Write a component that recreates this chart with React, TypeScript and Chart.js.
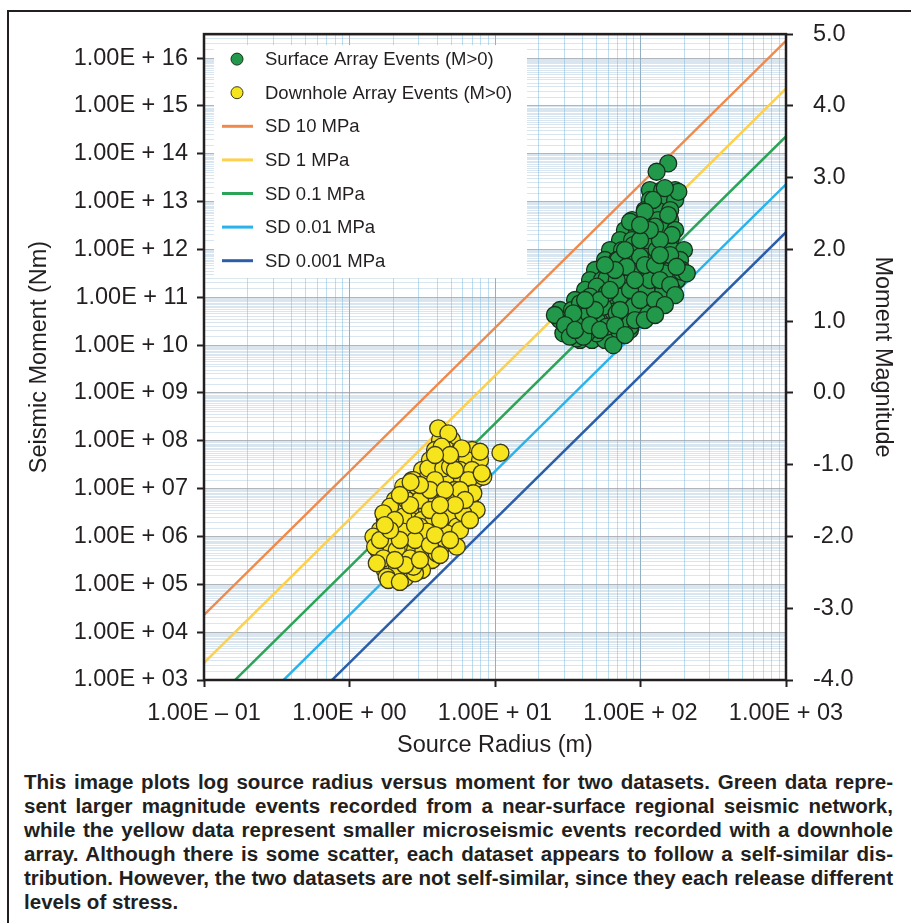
import React, { useEffect, useLayoutEffect, useRef, useState } from 'react';
import { Chart, registerables } from 'chart.js';

Chart.register(...registerables);

// Surface array events: [source radius (m), seismic moment (Nm)]
const surfaceEvents: [number, number][] = [
  [116, 1.74e13], [141, 1.74e13], [173, 1.74e13],
  [116, 1.08e13], [141, 1.08e13], [173, 1.08e13],
  [107, 6.65e12], [130, 6.65e12], [160, 6.65e12],
  [87.5, 4.11e12], [107, 4.11e12], [132, 4.11e12], [160, 4.11e12],
  [78.2, 2.54e12], [94.6, 2.54e12], [116, 2.54e12], [141, 2.54e12], [173, 2.54e12],
  [72.3, 1.57e12], [87.5, 1.57e12], [107, 1.57e12], [130, 1.57e12], [160, 1.57e12],
  [61.7, 9.7e11], [74.6, 9.7e11], [91.6, 9.7e11], [111, 9.7e11], [136, 9.7e11], [165, 9.7e11], [199, 9.7e11],
  [57.0, 6.0e11], [68.9, 6.0e11], [84.7, 6.0e11], [102, 6.0e11], [126, 6.0e11], [152, 6.0e11], [187, 6.0e11],
  [48.7, 3.71e11], [58.9, 3.71e11], [72.3, 3.71e11], [87.5, 3.71e11], [107, 3.71e11], [130, 3.71e11], [160, 3.71e11], [193, 3.71e11],
  [45.0, 2.29e11], [54.3, 2.29e11], [66.8, 2.29e11], [80.7, 2.29e11], [99.3, 2.29e11], [120, 2.29e11], [147, 2.29e11], [178, 2.29e11],
  [41.6, 1.42e11], [50.2, 1.42e11], [61.7, 1.42e11], [74.6, 1.42e11], [91.6, 1.42e11], [111, 1.42e11], [136, 1.42e11], [165, 1.42e11],
  [35.5, 8.75e10], [42.9, 8.75e10], [52.7, 8.75e10], [63.7, 8.75e10], [78.2, 8.75e10], [94.6, 8.75e10], [116, 8.75e10],
  [28.0, 5.41e10], [33.8, 5.41e10], [41.6, 5.41e10], [50.2, 5.41e10], [61.7, 5.41e10], [74.6, 5.41e10], [91.6, 5.41e10],
  [28.0, 3.34e10], [33.8, 3.34e10], [41.6, 3.34e10], [50.2, 3.34e10], [61.7, 3.34e10], [74.6, 3.34e10], [91.6, 3.34e10],
  [31.3, 2.07e10], [38.4, 2.07e10], [46.4, 2.07e10], [57.0, 2.07e10], [68.9, 2.07e10], [84.7, 2.07e10],
  [38.4, 1.28e10], [46.4, 1.28e10], [57.0, 1.28e10],
  [155, 6.28e13], [129, 4.2e13], [182, 1.6e13], [147, 1.91e13], [122, 1.08e13],
  [155, 5.22e12], [107, 6.12e12], [84.7, 3.78e12], [126, 2.98e12], [164, 2.0e12],
  [110, 1.57e12], [89.3, 1.23e12], [160, 7.62e11], [70.4, 6.0e11], [96.6, 3.16e11],
  [147, 3.16e11], [192, 3.41e11], [58.6, 2.48e11], [80.4, 1.95e11], [110, 1.42e11],
  [143, 1.3e11], [50.0, 1.66e11], [65.0, 6.87e10], [89.3, 7.46e10], [38.4, 7.46e10],
  [25.8, 4.25e10], [32.7, 2.85e10], [39.4, 2.85e10], [50.0, 3.34e10], [65.0, 4.98e10],
  [29.5, 1.76e10], [36.5, 1.38e10], [65.0, 1.0e10], [50.0, 1.76e10], [84.7, 2.42e10],
  [110, 4.61e10], [208, 3.16e11], [177, 4.34e11], [55.5, 6.34e10], [72.3, 1.03e11],
  [45.0, 1.03e11], [99.3, 7.03e11], [129, 9.7e11], [80.4, 4.34e11], [68.6, 2.29e11],
  [58.6, 1.21e11], [43.8, 4.61e10], [76.2, 3.34e10], [58.6, 2.42e10], [42.7, 1.76e10],
  [34.5, 4.61e10], [30.3, 2.62e10], [68.6, 4.61e10], [89.3, 6.34e10], [32.7, 1.5e10],
  [40.5, 1.5e10], [52.7, 8.75e10], [61.7, 1.42e11], [72.3, 5.41e10], [84.7, 1.42e11],
  [99.3, 8.75e10], [116, 2.29e11], [91.7, 2.29e11], [107, 4.71e11], [126, 4.71e11],
  [136, 1.57e12], [116, 2.54e12], [99.3, 1.57e12], [78.3, 9.7e11], [66.8, 3.71e11],
  [57.0, 4.71e11], [48.7, 5.41e10], [41.6, 8.75e10], [35.5, 2.07e10], [45.0, 2.62e10],
  [52.7, 2.07e10], [66.8, 2.62e10], [78.3, 1.62e10], [91.7, 3.34e10], [107, 3.34e10],
  [126, 8.75e10], [136, 2.29e11], [160, 1.8e11], [173, 1.11e11], [147, 6.87e10],
  [126, 4.25e10], [136, 7.62e11], [99.3, 3.23e12],
];

// Downhole array events: [source radius (m), seismic moment (Nm)]
const downholeEvents: [number, number][] = [
  [4.19, 1.04e8], [5.06, 1.04e8],
  [3.87, 6.41e7], [4.68, 6.41e7], [5.75, 6.41e7], [6.95, 6.41e7],
  [3.57, 3.96e7], [4.32, 3.96e7], [5.31, 3.96e7], [6.42, 3.96e7], [7.89, 3.96e7],
  [3.15, 2.45e7], [3.87, 2.45e7], [4.68, 2.45e7], [5.75, 2.45e7], [6.95, 2.45e7],
  [2.69, 1.51e7], [3.3, 1.51e7], [3.99, 1.51e7], [4.91, 1.51e7], [5.93, 1.51e7], [7.29, 1.51e7],
  [2.41, 9.35e6], [2.91, 9.35e6], [3.57, 9.35e6], [4.32, 9.35e6], [5.31, 9.35e6], [6.42, 9.35e6],
  [2.05, 5.78e6], [2.48, 5.78e6], [3.05, 5.78e6], [3.69, 5.78e6], [4.53, 5.78e6], [5.48, 5.78e6], [6.73, 5.78e6],
  [1.9, 3.57e6], [2.3, 3.57e6], [2.82, 3.57e6], [3.41, 3.57e6], [4.19, 3.57e6], [5.06, 3.57e6], [6.22, 3.57e6], [7.29, 3.57e6],
  [1.75, 2.21e6], [2.12, 2.21e6], [2.61, 2.21e6], [3.15, 2.21e6], [3.87, 2.21e6], [4.68, 2.21e6], [5.75, 2.21e6],
  [1.62, 1.36e6], [1.96, 1.36e6], [2.41, 1.36e6], [2.91, 1.36e6], [3.57, 1.36e6], [4.32, 1.36e6], [5.31, 1.36e6],
  [1.57, 8.43e5], [1.9, 8.43e5], [2.3, 8.43e5], [2.82, 8.43e5], [3.41, 8.43e5], [4.19, 8.43e5], [5.06, 8.43e5],
  [1.57, 5.21e5], [1.9, 5.21e5], [2.3, 5.21e5], [2.82, 5.21e5], [3.41, 5.21e5], [4.19, 5.21e5],
  [1.67, 3.22e5], [2.05, 3.22e5], [2.48, 3.22e5], [3.05, 3.22e5], [3.69, 3.22e5],
  [1.75, 1.99e5], [2.12, 1.99e5], [2.61, 1.99e5], [3.15, 1.99e5],
  [1.96, 1.36e5], [2.41, 1.36e5],
  [4.07, 1.82e8], [4.78, 1.43e8], [4.3, 7.52e7], [5.9, 6.95e7], [7.89, 5.9e7],
  [10.9, 5.62e7], [3.48, 2.65e7], [4.41, 2.65e7], [6.56, 1.51e7], [8.31, 1.77e7],
  [5.31, 9.35e6], [3.4, 6.78e6], [2.47, 5.78e6], [4.66, 5.78e6], [6.92, 7.98e6],
  [7.48, 3.57e6], [4.91, 2.81e6], [3.77, 2.21e6], [1.9, 4.19e6], [2.34, 2.59e6],
  [3.05, 1.6e6], [3.4, 1.26e6], [2.34, 1.26e6], [1.75, 7.2e5], [1.46, 9.89e5],
  [2.11, 5.21e5], [2.61, 3.49e5], [3.22, 5.21e5], [4.19, 8.43e5], [5.46, 1.6e6],
  [6.05, 3.05e6], [2.11, 1.99e5], [1.8, 1.44e5], [1.62, 3.22e5], [2.82, 1.7e5],
  [3.97, 4.45e5], [5.46, 6.11e5], [4.66, 1.16e6], [1.5, 6.11e5], [2.75, 1.51e7],
  [2.34, 1.1e7], [1.71, 3.05e6], [1.62, 8.43e5], [1.71, 3.49e5], [2.75, 2.33e5],
  [1.54, 2.75e5], [1.85, 1.23e5], [8.11, 2.09e7], [7.1, 7.98e6], [5.75, 1.36e6],
  [4.91, 2.87e7], [3.05, 5.78e6], [3.57, 3.57e6], [4.19, 2.21e6], [2.82, 8.43e5],
  [2.22, 8.43e5], [2.05, 2.21e6], [2.61, 4.54e6], [3.87, 1.51e7], [5.31, 2.45e7],
  [5.75, 9.35e6], [6.22, 5.78e6], [3.57, 9.35e6], [4.53, 9.35e6], [4.91, 5.04e7],
  [3.87, 5.04e7], [3.05, 1.19e7], [1.9, 1.36e6], [2.41, 2.53e5], [3.05, 3.22e5],
  [3.57, 6.62e5], [4.19, 4.1e5], [1.75, 1.73e6], [6.73, 2.21e6], [5.31, 4.54e6],
  [2.22, 1.12e5], [2.63, 1.37e7], [2.22, 7.35e6], [4.19, 4.54e6], [2.82, 1.73e6],
  [3.87, 1.07e6], [4.91, 8.43e5], [2.05, 3.22e5],
];

// Stress-drop reference lines (moment at radius 0.1 m and 1000 m)
const sdLabels = ['SD 10 MPa', 'SD 1 MPa', 'SD 0.1 MPa', 'SD 0.01 MPa', 'SD 0.001 MPa'];
const sdColors = ['#f08a4c', '#fdd04e', '#2ba457', '#2ab2ea', '#2c5ea8'];
const sdRadiusEnds = [0.1, 1000];
const sdMomentEnds: [number, number][] = [
  [2.29e4, 2.29e16],
  [2.29e3, 2.29e15],
  [2.29e2, 2.29e14],
  [22.9, 2.29e13],
  [2.29, 2.29e12],
];

const pointLabels = ['Surface Array Events (M>0)', 'Downhole Array Events (M>0)'];

const xDecades = [-1, 0, 1, 2, 3];
const xTickLabels = ['1.00E \u2013 01', '1.00E + 00', '1.00E + 01', '1.00E + 02', '1.00E + 03'];
const yDecades = [3, 4, 5, 6, 7, 8, 9, 10, 11, 12, 13, 14, 15, 16];
const yTickLabels = [
  '1.00E + 03', '1.00E + 04', '1.00E + 05', '1.00E + 06', '1.00E + 07', '1.00E + 08', '1.00E + 09',
  '1.00E + 10', '1.00E + 11', '1.00E + 12', '1.00E + 13', '1.00E + 14', '1.00E + 15', '1.00E + 16',
];
const mwTicks = [-4, -3, -2, -1, 0, 1, 2, 3, 4, 5];
const mwTickLabels = ['-4.0', '-3.0', '-2.0', '-1.0', '0.0', '1.0', '2.0', '3.0', '4.0', '5.0'];

const captionLines = [
  'This image plots log source radius versus moment for two datasets. Green data repre-',
  'sent larger magnitude events recorded from a near-surface regional seismic network,',
  'while the yellow data represent smaller microseismic events recorded with a downhole',
  'array. Although there is some scatter, each dataset appears to follow a self-similar dis-',
  'tribution. However, the two datasets are not self-similar, since they each release different',
  'levels of stress.',
];

const INK = '#231f20';
const FONT = "'Liberation Sans', Arial, Helvetica, sans-serif";
const GREEN_FILL = '#22994a';
const GREEN_EDGE = '#17301c';
const YELLOW_FILL = '#f6e41c';
const YELLOW_EDGE = '#3d3a1c';

const X_MIN = 0.1;
const X_MAX = 1000;
const Y_MIN = 1e3;
const Y_MAX = Math.pow(10, 16.5);

function logGrid(min: number, max: number, mults: number[]): number[] {
  const out: number[] = [];
  const e0 = Math.floor(Math.log10(min));
  const e1 = Math.ceil(Math.log10(max));
  for (let e = e0; e <= e1; e++) {
    for (const m of mults) {
      const v = m * Math.pow(10, e);
      if (v >= min * 0.999999 && v <= max * 1.000001) out.push(v);
    }
  }
  return out;
}

function decadeOf(v: number): number | null {
  if (!(v > 0)) return null;
  const l = Math.log10(v);
  const r = Math.round(l);
  return Math.abs(l - r) < 1e-7 ? r : null;
}

const xGridValues = logGrid(X_MIN, X_MAX, [1, 2, 3, 4, 5, 6, 7, 8, 9]);
const yGridValues = logGrid(Y_MIN, Y_MAX, [1, 1.5, 2, 2.5, 3, 3.5, 4, 4.5, 5, 5.5, 6, 6.5, 7, 7.5, 8, 8.5, 9, 9.5]);

const V_MINOR = 'rgba(120,190,225,0.5)';
const V_MAJOR = 'rgba(110,150,175,0.75)';
const H_MINOR = 'rgba(140,180,205,0.33)';
const H_MAJOR = 'rgba(150,158,165,0.75)';

const frameLegendPlugin = {
  id: 'frameLegend',
  beforeDatasetsDraw(chart: any) {
    const { ctx, chartArea } = chart;
    const L = chartArea.left;
    const T = chartArea.top;
    ctx.save();
    ctx.fillStyle = '#ffffff';
    ctx.fillRect(L + 10, T + 11, 313, 233);
    const ds = chart.data.datasets;
    const rowY = (i: number) => T + 25 + i * 33.6;
    ctx.font = `18.5px ${FONT}`;
    ctx.textBaseline = 'middle';
    ctx.textAlign = 'left';
    ds.forEach((d: any, i: number) => {
      const y = rowY(i);
      if (d.showLine) {
        ctx.strokeStyle = d.borderColor;
        ctx.lineWidth = 3;
        ctx.beginPath();
        ctx.moveTo(L + 18, y);
        ctx.lineTo(L + 49, y);
        ctx.stroke();
      } else {
        ctx.fillStyle = d.backgroundColor;
        ctx.strokeStyle = d.borderColor;
        ctx.lineWidth = 1;
        ctx.beginPath();
        ctx.arc(L + 33, y, 6, 0, Math.PI * 2);
        ctx.fill();
        ctx.stroke();
      }
      ctx.fillStyle = INK;
      ctx.fillText(d.label, L + 61, y + 1);
    });
    ctx.restore();
  },
  afterDatasetsDraw(chart: any) {
    const { ctx, chartArea } = chart;
    ctx.save();
    ctx.strokeStyle = INK;
    ctx.lineWidth = 2.5;
    ctx.strokeRect(chartArea.left, chartArea.top, chartArea.right - chartArea.left, chartArea.bottom - chartArea.top);
    ctx.restore();
  },
};

function ChartView() {
  const ref = useRef<HTMLCanvasElement | null>(null);
  useEffect(() => {
    if (!ref.current) return;
    const pointSets = [
      { label: pointLabels[0], events: surfaceEvents, fill: GREEN_FILL, edge: GREEN_EDGE },
      { label: pointLabels[1], events: downholeEvents, fill: YELLOW_FILL, edge: YELLOW_EDGE },
    ].map((p) => ({
      label: p.label,
      data: p.events.map(([r, m]) => ({ x: r, y: m })),
      backgroundColor: p.fill,
      borderColor: p.edge,
      borderWidth: 1.3,
      pointRadius: 8.5,
      pointHoverRadius: 8.5,
      showLine: false,
    }));
    const lineSets = sdLabels.map((label, i) => ({
      label,
      data: sdRadiusEnds.map((r, j) => ({ x: r, y: sdMomentEnds[i][j] })),
      borderColor: sdColors[i],
      backgroundColor: sdColors[i],
      borderWidth: 2.5,
      pointRadius: 0,
      showLine: true,
    }));
    const tickFont = { family: FONT, size: 23.5 };
    const titleFont = { family: FONT, size: 23.5, lineHeight: 1 };
    const chart = new Chart(ref.current, {
      type: 'scatter',
      data: { datasets: [...pointSets, ...lineSets] as any },
      plugins: [frameLegendPlugin],
      options: {
        animation: false,
        responsive: false,
        devicePixelRatio: 1,
        layout: { padding: { top: 33, left: 0, right: 0, bottom: 0 } },
        plugins: { legend: { display: false }, tooltip: { enabled: false } },
        scales: {
          x: {
            type: 'logarithmic',
            position: 'bottom',
            min: X_MIN,
            max: X_MAX,
            afterBuildTicks: (s: any) => {
              s.ticks = xGridValues.map((v) => ({ value: v }));
            },
            afterFit: (s: any) => {
              s.height = 85;
            },
            border: { display: false },
            grid: {
              lineWidth: 1,
              color: (c: any) => (decadeOf(c.tick?.value) !== null ? V_MAJOR : V_MINOR),
              drawTicks: true,
              tickLength: 7,
              tickWidth: 2,
              tickColor: (c: any) => (decadeOf(c.tick?.value) !== null ? INK : 'rgba(0,0,0,0)'),
            },
            ticks: {
              autoSkip: false,
              maxRotation: 0,
              minRotation: 0,
              padding: 12,
              color: INK,
              font: tickFont,
              callback: (v: any) => {
                const d = decadeOf(Number(v));
                const k = d === null ? -1 : xDecades.indexOf(d);
                return k >= 0 ? xTickLabels[k] : '';
              },
            },
            title: {
              display: true,
              text: 'Source Radius (m)',
              color: INK,
              font: titleFont,
              padding: { top: 0, bottom: 8 },
            },
          },
          y: {
            type: 'logarithmic',
            position: 'left',
            min: Y_MIN,
            max: Y_MAX,
            afterBuildTicks: (s: any) => {
              s.ticks = yGridValues.map((v) => ({ value: v }));
            },
            afterFit: (s: any) => {
              s.width = 204;
            },
            border: { display: false },
            grid: {
              lineWidth: 1,
              color: (c: any) => (decadeOf(c.tick?.value) !== null ? H_MAJOR : H_MINOR),
              drawTicks: true,
              tickLength: 7,
              tickWidth: 2,
              tickColor: (c: any) => (decadeOf(c.tick?.value) !== null ? INK : 'rgba(0,0,0,0)'),
            },
            ticks: {
              autoSkip: false,
              padding: 9,
              color: INK,
              font: tickFont,
              callback: (v: any) => {
                const d = decadeOf(Number(v));
                const k = d === null ? -1 : yDecades.indexOf(d);
                return k >= 0 ? yTickLabels[k] : '';
              },
            },
            title: {
              display: true,
              text: 'Seismic Moment (Nm)',
              color: INK,
              font: titleFont,
              padding: { top: 28, bottom: 0 },
            },
          },
          y2: {
            type: 'linear',
            position: 'right',
            min: -4,
            max: 5,
            afterBuildTicks: (s: any) => {
              s.ticks = mwTicks.map((v) => ({ value: v }));
            },
            afterFit: (s: any) => {
              s.width = 125;
            },
            border: { display: false },
            grid: {
              drawOnChartArea: false,
              drawTicks: true,
              tickLength: 7,
              tickWidth: 2,
              tickColor: INK,
            },
            ticks: {
              autoSkip: false,
              padding: 20,
              color: INK,
              font: tickFont,
              callback: (v: any) => {
                const k = mwTicks.indexOf(Math.round(Number(v)));
                return k >= 0 ? mwTickLabels[k] : '';
              },
            },
            title: {
              display: true,
              text: 'Moment Magnitude',
              color: INK,
              font: titleFont,
              padding: { top: 17, bottom: 0 },
            },
          },
        },
      } as any,
    });
    return () => chart.destroy();
  }, []);
  return <canvas ref={ref} width={911} height={765} style={{ position: 'absolute', left: 0, top: 0, width: 911, height: 765 }} />;
}

function Caption() {
  const spans = useRef<(HTMLSpanElement | null)[]>([]);
  const [scale, setScale] = useState<number | null>(null);
  useLayoutEffect(() => {
    const widths = spans.current.map((el) => (el ? el.getBoundingClientRect().width : 0));
    const maxW = Math.max(...widths);
    setScale(maxW > 0 ? 868 / maxW : 1);
  }, []);
  const measuring = scale === null;
  const s = scale ?? 1;
  return (
    <div
      style={{
        position: 'absolute',
        left: 24,
        top: 770,
        width: 869 / s,
        transform: `scaleX(${s})`,
        transformOrigin: 'left top',
        fontFamily: FONT,
        fontWeight: 'bold',
        fontSize: 20,
        color: INK,
      }}
    >
      {captionLines.map((line, i) => {
        const last = i === captionLines.length - 1;
        const align = measuring || last ? 'left' : 'justify';
        return (
          <div
            key={i}
            style={{
              height: 24,
              lineHeight: '24px',
              whiteSpace: measuring ? 'nowrap' : 'normal',
              textAlign: align as any,
              textAlignLast: align as any,
            }}
          >
            <span
              ref={(el) => {
                spans.current[i] = el;
              }}
            >
              {line}
            </span>
          </div>
        );
      })}
    </div>
  );
}

export default function App() {
  return (
    <div style={{ position: 'absolute', left: 0, top: 0, width: 911, height: 923, overflow: 'hidden', background: '#fff' }}>
      <div
        style={{
          position: 'absolute',
          left: 7,
          top: 10,
          width: 940,
          height: 940,
          border: `2px solid ${INK}`,
          boxSizing: 'border-box',
        }}
      />
      <ChartView />
      <Caption />
    </div>
  );
}
